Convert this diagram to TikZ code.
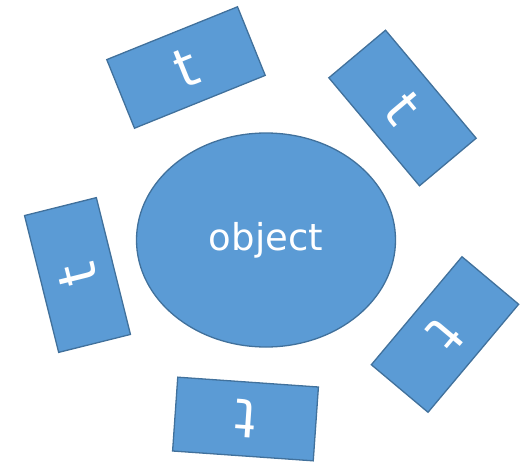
\documentclass[tikz,border=0pt]{standalone}
\usepackage{fontspec}
\setmainfont{DejaVu Sans}
\usetikzlibrary{shapes.geometric}

\begin{document}
\begin{tikzpicture}[x=1pt, y=-1pt,
    tbox/.style={draw=darkblue, fill=midblue, line width=1.3pt, text=white,
      minimum width=141pt, minimum height=74pt, inner sep=0pt,
      font=\fontsize{54}{54}\selectfont},
    objblob/.style={ellipse, draw=darkblue, fill=midblue, line width=1.3pt, text=white,
      minimum width=259pt, minimum height=214pt, inner sep=0pt,
      font=\fontsize{37}{40}\selectfont}]
  \definecolor{midblue}{RGB}{91,155,213}
  \definecolor{darkblue}{RGB}{65,113,156}
  \useasboundingbox (0, 0) rectangle (525, 466);

  \node [objblob] (obj) at (266, 240) {object};

  \node [tbox, rotate=22] (t1) at (186, 67.5) {t};
  \node [tbox, rotate=-50] (t2) at (402.5, 108) {t};
  \node [tbox, rotate=104] (t3) at (77.5, 275) {t};
  \node [tbox, rotate=-130] (t4) at (445, 334.5) {t};
  \node [tbox, rotate=176] (t5) at (245.5, 419) {t};
\end{tikzpicture}
\end{document}
